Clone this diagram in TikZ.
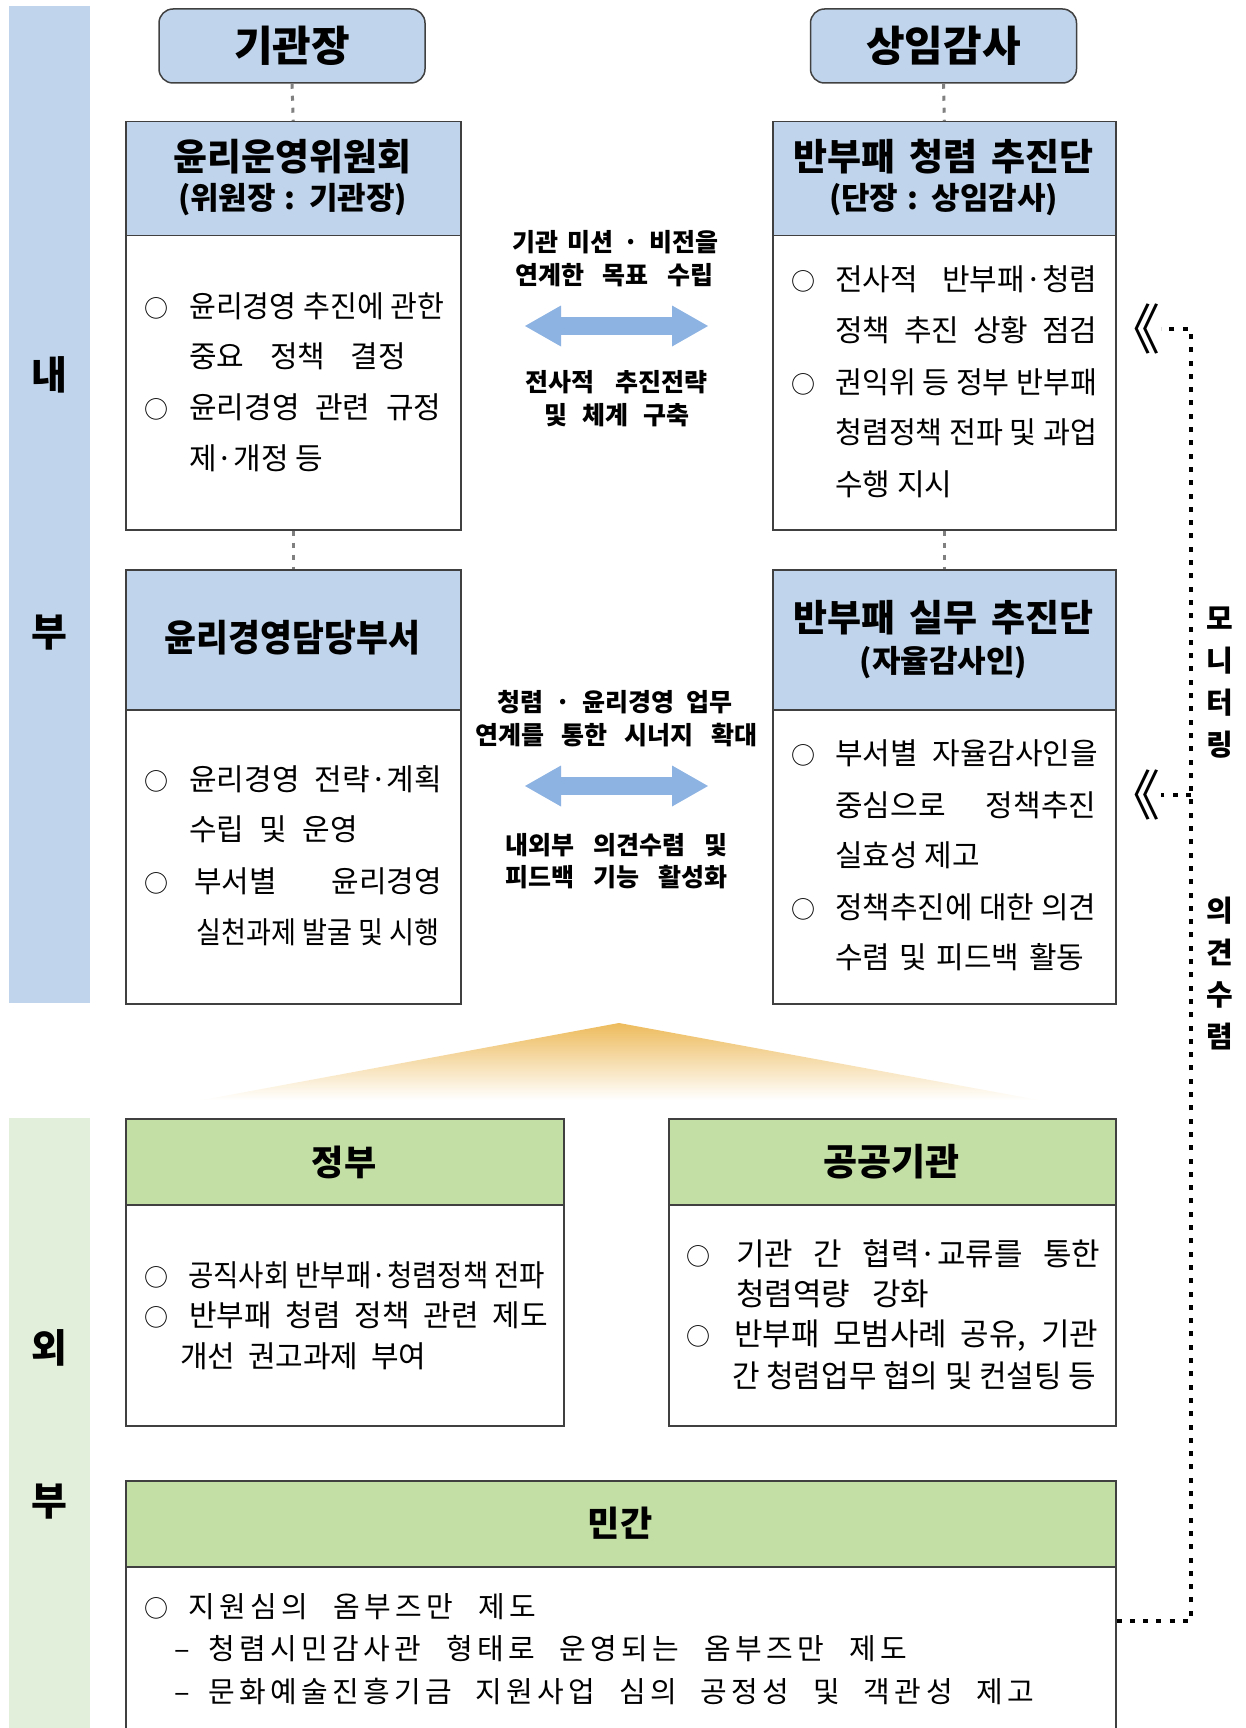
\documentclass[tikz,border=0pt]{standalone}
\usepackage{fontspec}
\usepackage{graphicx}
\setmainfont{Noto Sans CJK KR}
\newfontfamily\spacedfont[LetterSpace=15]{Noto Sans CJK KR}
\usetikzlibrary{arrows.meta}

\definecolor{headblue}{RGB}{192,213,236}
\definecolor{headgreen}{RGB}{196,223,165}
\definecolor{bandgreen}{RGB}{226,239,218}
\definecolor{arrowblue}{RGB}{141,179,226}
\definecolor{fadegold}{RGB}{237,187,92}
\definecolor{boxline}{RGB}{64,64,64}

\newlength\fitwd
\newcommand\fitline[2]{\settowidth\fitwd{#2}\ifdim\fitwd<#1\relax\makebox[#1][s]{#2}\else\resizebox{#1}{\height}{#2}\fi}
\newcommand\bul{\hspace*{-10pt}{\fontsize{24}{24}\selectfont ○}}

\begin{document}
\begin{tikzpicture}[x=1pt,y=1pt,yscale=-1,xscale=1,
  cell/.style={draw=boxline,line width=1.5pt,rectangle,inner sep=0pt,anchor=north west},
  topbox/.style={draw=boxline,line width=1.5pt,rounded corners=14pt,fill=headblue,minimum width=266pt,minimum height=74pt,inner sep=0pt,font=\bfseries\fontsize{42}{42}\selectfont},
  headtxt/.style={inner sep=0pt,font=\bfseries\fontsize{37}{37}\selectfont},
  subtxt/.style={inner sep=0pt,font=\bfseries\fontsize{31}{31}\selectfont},
  bodytxt/.style={anchor=west,inner sep=0pt,font=\fontsize{30}{30}\selectfont},
  midtxt/.style={inner sep=0pt,font=\bfseries\fontsize{25}{25}\selectfont},
  bandtxt/.style={inner sep=0pt,font=\bfseries\fontsize{39}{39}\selectfont},
  sidetxt/.style={inner sep=0pt,align=center,font=\bfseries\fontsize{29}{42}\selectfont},
  linkline/.style={draw=black!50,line width=3pt,dash pattern=on 5pt off 7pt},
  feedline/.style={draw=black,line width=3.3pt,dash pattern=on 5pt off 8.3pt},
  fatarrow/.style={draw=arrowblue,line width=18pt,{Triangle[length=36pt,width=41pt,line width=0pt]}-{Triangle[length=36pt,width=41pt,line width=0pt]}}]
\useasboundingbox (0,0) rectangle (1245,1728);

% side bands
\fill [headblue] (9,6) rectangle (90,1003);
\fill [bandgreen] (9,1118) rectangle (90,1728);
\draw (49,375) node (in-1) [bandtxt] {내};
\draw (49,633) node (in-2) [bandtxt] {부};
\draw (49,1348) node (out-1) [bandtxt] {외};
\draw (49,1502) node (out-2) [bandtxt] {부};

% heads
\draw (292,46) node (hq) [topbox] {기관장};
\draw (943.5,46) node (audit) [topbox] {상임감사};

% internal boxes
\draw (125,235) node (ethics-body) [cell,fill=white,minimum width=335pt,minimum height=294pt] {};
\draw (125,121) node (ethics-head) [cell,fill=headblue,minimum width=335pt,minimum height=114pt] {};
\draw (772,235) node (anticorr-body) [cell,fill=white,minimum width=343pt,minimum height=294pt] {};
\draw (772,121) node (anticorr-head) [cell,fill=headblue,minimum width=343pt,minimum height=114pt] {};
\draw (125,709) node (dept-body) [cell,fill=white,minimum width=335pt,minimum height=294pt] {};
\draw (125,569) node (dept-head) [cell,fill=headblue,minimum width=335pt,minimum height=140pt] {};
\draw (772,709) node (practice-body) [cell,fill=white,minimum width=343pt,minimum height=294pt] {};
\draw (772,569) node (practice-head) [cell,fill=headblue,minimum width=343pt,minimum height=140pt] {};

\draw (292.5,157) node (ethics-title) [headtxt] {\fitline{237pt}{윤리운영위원회}};
\draw (292.5,200) node (ethics-sub) [subtxt] {\fitline{229pt}{(위원장 : 기관장)}};
\draw (943.5,157) node (anticorr-title) [headtxt] {\fitline{301pt}{반부패 청렴 추진단}};
\draw (943.5,200) node (anticorr-sub) [subtxt] {\fitline{229pt}{(단장 : 상임감사)}};
\draw (292.5,638) node (dept-title) [headtxt] {\fitline{255pt}{윤리경영담당부서}};
\draw (943.5,618) node (practice-title) [headtxt] {\fitline{301pt}{반부패 실무 추진단}};
\draw (943.5,663) node (practice-sub) [subtxt] {(자율감사인)};

\draw (154,306) node (ethics-1) [bodytxt] {\makebox[35pt][l]{\bul}\fitline{255pt}{윤리경영 추진에 관한}};
\draw (189,356) node (ethics-2) [bodytxt] {\fitline{217pt}{중요 정책 결정}};
\draw (154,407) node (ethics-3) [bodytxt] {\makebox[35pt][l]{\bul}\fitline{252pt}{윤리경영 관련 규정}};
\draw (189,458) node (ethics-4) [bodytxt] {제·개정 등};

\draw (801,279) node (anticorr-1) [bodytxt] {\makebox[34pt][l]{\bul}\fitline{262pt}{전사적 반부패·청렴}};
\draw (835,330) node (anticorr-2) [bodytxt] {\fitline{262pt}{정책 추진 상황 점검}};
\draw (801,382) node (anticorr-3) [bodytxt] {\makebox[34pt][l]{\bul}\fitline{262pt}{권익위 등 정부 반부패}};
\draw (835,432) node (anticorr-4) [bodytxt] {\fitline{262pt}{청렴정책 전파 및 과업}};
\draw (835,484) node (anticorr-5) [bodytxt] {수행 지시};

\draw (154,779) node (dept-1) [bodytxt] {\makebox[35pt][l]{\bul}\fitline{253pt}{윤리경영 전략·계획}};
\draw (189,829) node (dept-2) [bodytxt] {\fitline{169pt}{수립 및 운영}};
\draw (154,881) node (dept-3) [bodytxt] {\makebox[40pt][l]{\bul}\fitline{248pt}{부서별 윤리경영}};
\draw (196,932) node (dept-4) [bodytxt] {\fitline{243pt}{실천과제 발굴 및 시행}};

\draw (801,753) node (practice-1) [bodytxt] {\makebox[34pt][l]{\bul}\fitline{263pt}{부서별 자율감사인을}};
\draw (835,805) node (practice-2) [bodytxt] {\fitline{261pt}{중심으로 정책추진}};
\draw (835,855) node (practice-3) [bodytxt] {실효성 제고};
\draw (801,907) node (practice-4) [bodytxt] {\makebox[34pt][l]{\bul}\fitline{261pt}{정책추진에 대한 의견}};
\draw (835,957) node (practice-5) [bodytxt] {\fitline{249pt}{수렴 및 피드백 활동}};

\draw [linkline] (hq.south) -- (ethics-head.north);
\draw [linkline] (audit.south) -- (anticorr-head.north);
\draw [linkline] (ethics-body.south) -- (dept-head.north);
\draw [linkline] (anticorr-body.south) -- (practice-head.north);

% links between the two columns
\coordinate (link-a-l) at (525,326);
\coordinate (link-a-r) at (708,326);
\coordinate (link-b-l) at (525,786);
\coordinate (link-b-r) at (708,786);
\draw [fatarrow] (link-a-l) -- (link-a-r);
\draw [fatarrow] (link-b-l) -- (link-b-r);
\draw (615,242) node (link-a-1) [midtxt] {\fitline{206pt}{기관 미션 · 비전을}};
\draw (614,275) node (link-a-2) [midtxt] {\fitline{198pt}{연계한 목표 수립}};
\draw (616,382) node (link-a-3) [midtxt] {\fitline{182pt}{전사적 추진전략}};
\draw (617,415) node (link-a-4) [midtxt] {\fitline{145pt}{및 체계 구축}};
\draw (615,702) node (link-b-1) [midtxt] {\fitline{235pt}{청렴 · 윤리경영 업무}};
\draw (616,735) node (link-b-2) [midtxt] {\fitline{282pt}{연계를 통한 시너지 확대}};
\draw (616,845) node (link-b-3) [midtxt] {\fitline{222pt}{내외부 의견수렴 및}};
\draw (616,877) node (link-b-4) [midtxt] {\fitline{222pt}{피드백 기능 활성화}};

% fading wedge
\shade [top color=fadegold,bottom color=white] (619,1023) -- (1039,1100) -- (202,1100) -- cycle;

% external boxes
\draw (125,1204) node (gov-body) [cell,fill=white,minimum width=438pt,minimum height=221pt] {};
\draw (125,1118) node (gov-head) [cell,fill=headgreen,minimum width=438pt,minimum height=86pt] {};
\draw (668,1204) node (public-body) [cell,fill=white,minimum width=447pt,minimum height=221pt] {};
\draw (668,1118) node (public-head) [cell,fill=headgreen,minimum width=447pt,minimum height=86pt] {};
\draw (125,1566) node (private-body) [cell,fill=white,minimum width=990pt,minimum height=175pt] {};
\draw (125,1480) node (private-head) [cell,fill=headgreen,minimum width=990pt,minimum height=86pt] {};

\draw (344,1162) node (gov-title) [headtxt,font=\bfseries\fontsize{35}{35}\selectfont] {정부};
\draw (891.5,1162) node (public-title) [headtxt] {공공기관};
\draw (620,1523) node (private-title) [headtxt,font=\bfseries\fontsize{35}{35}\selectfont] {민간};

\draw (154,1275) node (gov-1) [bodytxt] {\makebox[34pt][l]{\bul}\fitline{357pt}{공직사회 반부패·청렴정책 전파}};
\draw (154,1315) node (gov-2) [bodytxt] {\makebox[35pt][l]{\bul}\fitline{359pt}{반부패 청렴 정책 관련 제도}};
\draw (180,1356) node (gov-3) [bodytxt] {\fitline{246pt}{개선 권고과제 부여}};

\draw (696,1254) node (public-1) [bodytxt,font=\fontsize{31}{31}\selectfont] {\makebox[40pt][l]{\bul}\fitline{364pt}{기관 간 협력·교류를 통한}};
\draw (736,1294) node (public-2) [bodytxt,font=\fontsize{31}{31}\selectfont] {\fitline{193pt}{청렴역량 강화}};
\draw (696,1336) node (public-3) [bodytxt,font=\fontsize{31}{31}\selectfont] {\makebox[38pt][l]{\bul}\fitline{364pt}{반부패 모범사례 공유, 기관}};
\draw (732,1376) node (public-4) [bodytxt,font=\fontsize{31}{31}\selectfont] {\fitline{364pt}{간 청렴업무 협의 및 컨설팅 등}};

\draw (154,1607) node (private-1) [bodytxt,font=\spacedfont\fontsize{29}{29}\selectfont] {\makebox[34pt][l]{\bul}\fitline{348pt}{지원심의 옴부즈만 제도}};
\draw (174,1649) node (private-2) [bodytxt,font=\spacedfont\fontsize{29}{29}\selectfont] {\makebox[34pt][l]{–}\fitline{699pt}{청렴시민감사관 형태로 운영되는 옴부즈만 제도}};
\draw (174,1691) node (private-3) [bodytxt,font=\spacedfont\fontsize{29}{29}\selectfont] {\makebox[34pt][l]{–}\fitline{826pt}{문화예술진흥기금 지원사업 심의 공정성 및 객관성 제고}};

% monitoring loop
\draw (1161,329) node (chev-top) [anchor=east,inner sep=0pt,font=\fontsize{54}{54}\selectfont] {《};
\draw (1161,795) node (chev-mid) [anchor=east,inner sep=0pt,font=\fontsize{54}{54}\selectfont] {《};
\draw (1220,683) node (side-monitor) [sidetxt] {모\\니\\터\\링};
\draw (1220,973) node (side-opinion) [sidetxt] {의\\견\\수\\렴};
\coordinate (loop-top) at (1191,329);
\coordinate (loop-mid) at (1191,795);
\coordinate (loop-bot) at (1191,1621);
\draw [feedline] (private-body.east |- loop-bot) -- (loop-bot) -- (loop-top) -- (chev-top.east);
\draw [feedline] (loop-mid) -- (chev-mid.east);
\end{tikzpicture}
\end{document}
